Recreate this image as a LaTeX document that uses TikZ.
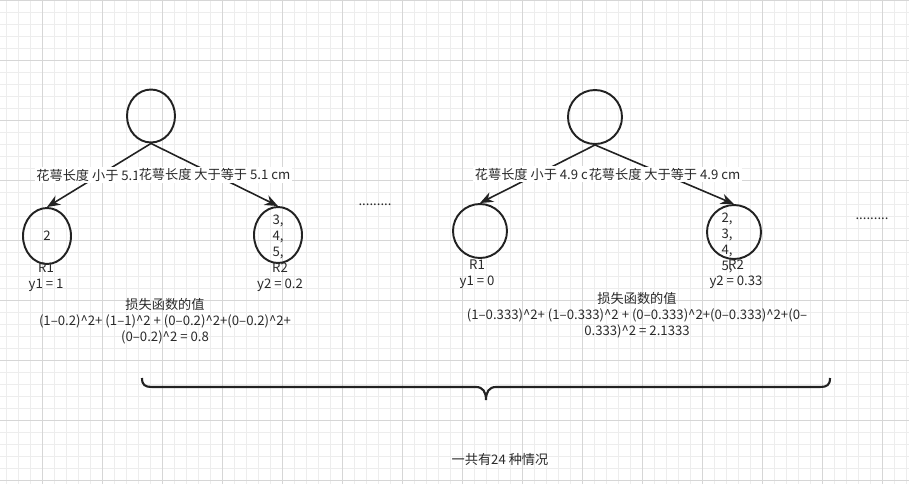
\documentclass[tikz,border=0pt]{standalone}
\usepackage{fontspec}
\setmainfont{Noto Sans CJK SC}
\usepackage{tikz}
\usetikzlibrary{shapes.geometric,arrows.meta}
\definecolor{ink}{HTML}{222222}
\definecolor{txt}{HTML}{2A2A2A}
\definecolor{gridminor}{HTML}{EDEDED}
\definecolor{gridmajor}{HTML}{D6D6D6}
\newcommand{\sqr}{\textasciicircum 2}
\tikzstyle{plain}=[inner sep=0pt,align=center,text=txt,font=\fontsize{7.5}{9}\selectfont]

\begin{document}
\begin{tikzpicture}[x=0.02cm,y=-0.02cm]

\tikzstyle{ovalnode}=[ellipse,draw=ink,line width=1.1pt,minimum width=0.96cm,minimum height=1.12cm,inner sep=0pt]
\tikzstyle{roundnode}=[circle,draw=ink,line width=1.1pt,minimum size=1.08cm,inner sep=0pt]
\tikzstyle{arrow}=[-{Stealth[length=7.5pt,width=6pt]},ink,line width=0.9pt]
\tikzstyle{edgelabel}=[plain,fill=white,inner sep=1pt]

% grid paper
\useasboundingbox (0,0) rectangle (909,484);
\fill[white] (0,0) rectangle (909,484);
\foreach \gx in {6,18,...,906} \draw[gridminor,line width=0.4pt] (\gx,0) -- (\gx,484);
\foreach \gy in {0,12,...,480} \draw[gridminor,line width=0.4pt] (0,\gy) -- (909,\gy);
\foreach \gx in {42,102,...,882} \draw[gridmajor,line width=0.5pt] (\gx,0) -- (\gx,484);
\foreach \gy in {0,60,...,480} \draw[gridmajor,line width=0.5pt] (0,\gy) -- (909,\gy);

% split at 5.1
\node (rootA) [ovalnode,minimum height=1.06cm] at (151,116) {};
\node (leafA1) [ovalnode] at (47,236) {};
\node (leafA2) [ovalnode] at (278,235) {};
\node (valA1) [plain] at (leafA1) {2};
\node (valA2) [plain] at (278,237) {3,\\4,\\5,};
\draw[arrow] (rootA.south) -- node[edgelabel] {花萼长度 小于 5.1 cm} (leafA1.north);
\draw[arrow] (rootA.south) -- node[edgelabel] {花萼长度 大于等于 5.1 cm} (leafA2.north);
\node (infoA1) [plain] at (46,277) {R1\\y1 = 1};
\node (infoA2) [plain] at (280,277) {R2\\y2 = 0.2};
\node (lossA) [plain] at (165,321) {损失函数的值\\(1–0.2)\sqr+ (1–1)\sqr{} + (0–0.2)\sqr+(0–0.2)\sqr+\\(0–0.2)\sqr{} = 0.8};
\node (dotsA) [plain] at (375,205) {.........};

% split at 4.9
\node (rootB) [roundnode] at (595,117) {};
\node (leafB1) [roundnode] at (480,231) {};
\node (leafB2) [roundnode] at (734,232) {};
\node (valB2) [plain,align=left] at (727,243) {2,\\3,\\4,\\5,};
\draw[arrow] (rootB.south) -- node[edgelabel] {花萼长度 小于 4.9 cm} (leafB1.north);
\draw[arrow] (rootB.south) -- node[edgelabel] {花萼长度 大于等于 4.9 cm} (leafB2.north);
\node (infoB1) [plain] at (477,274) {R1\\y1 = 0};
\node (infoB2) [plain] at (736,274) {R2\\y2 = 0.33};
\node (lossB) [plain] at (637,315) {损失函数的值\\(1–0.333)\sqr+ (1–0.333)\sqr{} + (0–0.333)\sqr+(0–0.333)\sqr+(0–\\0.333)\sqr{} = 2.1333};
\node (dotsB) [plain] at (872,219) {.........};

% brace over all cases
\draw[ink,line width=1.2pt] (142,378) .. controls (142,385) and (145,387) .. (152,387) -- (476,387)
  .. controls (483,387) and (486,392) .. (486,400) .. controls (486,392) and (489,387) .. (496,387)
  -- (820,387) .. controls (827,387) and (830,385) .. (830,378);
\node (total) [plain] at (500,459) {一共有24 种情况};
\end{tikzpicture}
\end{document}
